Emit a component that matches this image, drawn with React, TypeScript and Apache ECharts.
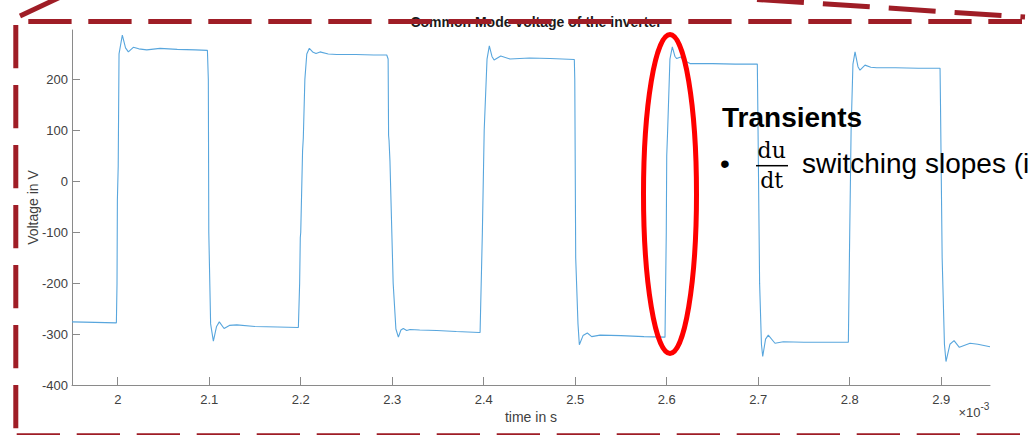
import React, { useEffect, useRef } from 'react';
import * as echarts from 'echarts';

// ---- data (time in ms, i.e. x 10^-3 s; voltage in V) ----
const timeMs = [
  1.950, 1.975, 1.9985,
  1.9992, 1.9996, 2.0005, 2.0014, 2.0050, 2.0085, 2.0116, 2.0170, 2.0230, 2.0317, 2.0462, 2.0650, 2.0850, 2.0980,
  2.0990, 2.0995, 2.1015, 2.1045, 2.1080, 2.1110, 2.1162, 2.1220, 2.1301, 2.1500, 2.1750, 2.1974,
  2.1981, 2.1988, 2.1995, 2.2000, 2.2020, 2.2028, 2.2045, 2.2066, 2.2094, 2.2130, 2.2167, 2.2211, 2.2300, 2.2393, 2.2600, 2.2800, 2.2940,
  2.2955, 2.2960, 2.2965, 2.2975, 2.3010, 2.3040, 2.3067, 2.3095, 2.3121, 2.3158, 2.3194, 2.3300, 2.3486, 2.3700, 2.3952,
  2.3960, 2.3985, 2.4005, 2.4036, 2.4061, 2.4090, 2.4113, 2.4186, 2.4287, 2.4500, 2.4725, 2.4990,
  2.4995, 2.5005, 2.5030, 2.5045, 2.5085, 2.5132, 2.5180, 2.5271, 2.5500, 2.5750, 2.5981,
  2.5985, 2.5995, 2.6000, 2.6010, 2.6035, 2.6061, 2.6090, 2.6109, 2.6153, 2.6200, 2.6255, 2.6500, 2.6750, 2.6990,
  2.6995, 2.7015, 2.7035, 2.7049, 2.7080, 2.7110, 2.7183, 2.7274, 2.7500, 2.7750, 2.7985,
  2.7990, 2.8000, 2.8015, 2.8035, 2.8058, 2.8090, 2.8112, 2.8167, 2.8230, 2.8295, 2.8500, 2.8750, 2.8987,
  2.8992, 2.9010, 2.9035, 2.9052, 2.9095, 2.9140, 2.9198, 2.9315, 2.9400, 2.9533,
];
const voltageV = [
  -276, -277, -278,
  -200, -37, 30, 250, 287, 262, 254, 263, 260, 258, 261, 259, 258, 257,
  200, -100, -280, -314, -285, -276, -289, -283, -282, -285, -286, -287,
  -287, -200, -111, -100, 60, 85, 200, 250, 261, 254, 251, 254, 250, 249, 249, 248, 248,
  240, 90, 80, 40, -200, -290, -306, -292, -289, -293, -291, -292, -293, -295, -297,
  -297, -100, 100, 240, 266, 245, 238, 246, 240, 242, 241, 239,
  200, -150, -280, -321, -303, -298, -305, -302, -303, -305, -306,
  -306, -100, 50, 100, 240, 264, 245, 241, 244, 236, 231, 231, 230, 230,
  150, -200, -320, -344, -310, -302, -318, -315, -316, -316, -316,
  -316, -100, 100, 230, 254, 225, 218, 228, 224, 223, 223, 222, 222,
  150, -150, -320, -354, -320, -313, -326, -318, -320, -325,
];
const xTickValues = [2, 2.1, 2.2, 2.3, 2.4, 2.5, 2.6, 2.7, 2.8, 2.9];
const yTickValues = [-400, -300, -200, -100, 0, 100, 200];
const chartTitle = 'Common Mode voltage of the inverter';
const xAxisName = 'time in s';
const yAxisName = 'Voltage in V';
const xExponentBase = '\u00d710';
const xExponent = '-3';
const noteHeading = 'Transients';
const noteBullet = '\u2022';
const noteNumerator = 'du';
const noteDenominator = 'dt';
const noteText = 'switching slopes (i';

const FONT = '"Liberation Sans", Arial, Helvetica, sans-serif';
const AXIS_GRAY = '#8a8a8a';
const LABEL_GRAY = '#404040';
const DARK_RED = '#9f1d26';

export default function App() {
  const ref = useRef<HTMLDivElement>(null);

  useEffect(() => {
    if (!ref.current) return;
    const chart = echarts.init(ref.current, undefined, { renderer: 'svg' });
    const seriesData = timeMs.map((t, i) => [t, voltageV[i]]);
    const dash = [43.3, 16.7];

    const txt = (x: number, y: number, text: string, font: string, align: string, extra: any = {}) => ({
      type: 'text',
      x,
      y,
      z: 100,
      style: {
        text,
        font,
        fill: '#000',
        align,
        verticalAlign: 'middle',
        ...extra,
      },
    });

    chart.setOption({
      animation: false,
      backgroundColor: '#ffffff',
      title: {
        text: chartTitle,
        left: 531,
        top: 10,
        textAlign: 'center',
        textStyle: { fontFamily: FONT, fontSize: 14, fontWeight: 'bold', color: '#1a1a1a' },
      },
      grid: { left: 72, top: 30, width: 918, height: 355, containLabel: false },
      xAxis: {
        type: 'value',
        min: 1.95,
        max: 2.9533,
        name: xAxisName,
        nameLocation: 'middle',
        nameGap: 25,
        nameMoveOverlap: false,
        nameTextStyle: { fontFamily: FONT, fontSize: 14, color: LABEL_GRAY },
        axisLine: { show: true, onZero: false, lineStyle: { color: AXIS_GRAY, width: 1 } },
        axisTick: { show: true, inside: true, length: 8, lineStyle: { color: AXIS_GRAY }, customValues: xTickValues },
        axisLabel: {
          show: true,
          margin: 8,
          fontFamily: FONT,
          fontSize: 13,
          color: LABEL_GRAY,
          customValues: xTickValues,
          formatter: (v: number) => String(parseFloat(v.toFixed(2))),
        },
        splitLine: { show: false },
      },
      yAxis: {
        type: 'value',
        min: -400,
        max: 297,
        name: yAxisName,
        nameLocation: 'middle',
        nameGap: 32,
        nameMoveOverlap: false,
        nameTextStyle: { fontFamily: FONT, fontSize: 14, color: LABEL_GRAY },
        axisLine: { show: true, onZero: false, lineStyle: { color: AXIS_GRAY, width: 1 } },
        axisTick: { show: true, inside: true, length: 8, lineStyle: { color: AXIS_GRAY }, customValues: yTickValues },
        axisLabel: {
          show: true,
          margin: 4,
          fontFamily: FONT,
          fontSize: 13,
          color: LABEL_GRAY,
          customValues: yTickValues,
          formatter: (v: number) => String(Math.round(v)),
        },
        splitLine: { show: false },
      },
      series: [
        {
          type: 'line',
          data: seriesData,
          showSymbol: false,
          symbol: 'none',
          lineStyle: { color: '#58a6dd', width: 1.1 },
          z: 2,
        },
      ],
      graphic: {
        elements: [
          // red dashed frame (slide annotation)
          { type: 'line', z: 90, shape: { x1: 28.3, y1: 21.5, x2: 1022, y2: 21.5 },
            style: { stroke: DARK_RED, lineWidth: 5, lineDash: dash } },
          { type: 'line', z: 90, shape: { x1: 15.8, y1: 25, x2: 15.8, y2: 440 },
            style: { stroke: DARK_RED, lineWidth: 5, lineDash: dash } },
          { type: 'line', z: 90, shape: { x1: 16.7, y1: 435.8, x2: 1030, y2: 435.8 },
            style: { stroke: DARK_RED, lineWidth: 5, lineDash: dash } },
          { type: 'line', z: 90, shape: { x1: 20, y1: 16, x2: 70, y2: -7.5 },
            style: { stroke: DARK_RED, lineWidth: 5 } },
          { type: 'line', z: 90, shape: { x1: 757, y1: -0.5, x2: 1025, y2: 17 },
            style: { stroke: DARK_RED, lineWidth: 5, lineDash: [47, 19] } },
          // red ellipse highlighting a transient
          { type: 'ellipse', z: 95, shape: { cx: 670, cy: 194, rx: 26.5, ry: 159.5 },
            style: { fill: 'transparent', stroke: '#ff0000', lineWidth: 5 } },
          // annotation text
          txt(722, 117.8, noteHeading, `bold 28px ${FONT}`, 'left'),
          txt(720, 163.6, noteBullet, `28px ${FONT}`, 'left'),
          txt(771.7, 150.7, noteNumerator, '22px "DejaVu Serif", serif', 'center'),
          txt(771.7, 180.7, noteDenominator, '22px "DejaVu Serif", serif', 'center'),
          { type: 'line', z: 100, shape: { x1: 756, y1: 165.7, x2: 788, y2: 165.7 },
            style: { stroke: '#000', lineWidth: 1.5 } },
          txt(802, 163.6, noteText, `28px ${FONT}`, 'left'),
          // x-axis exponent
          txt(980.5, 412, xExponentBase, `13px ${FONT}`, 'right', { fill: LABEL_GRAY }),
          txt(980.5, 406.5, xExponent, `10px ${FONT}`, 'left', { fill: LABEL_GRAY }),
        ],
      },
    });

    return () => chart.dispose();
  }, []);

  return (
    <div
      ref={ref}
      style={{ position: 'absolute', left: 0, top: 0, width: 1030, height: 435, background: '#fff' }}
    />
  );
}
